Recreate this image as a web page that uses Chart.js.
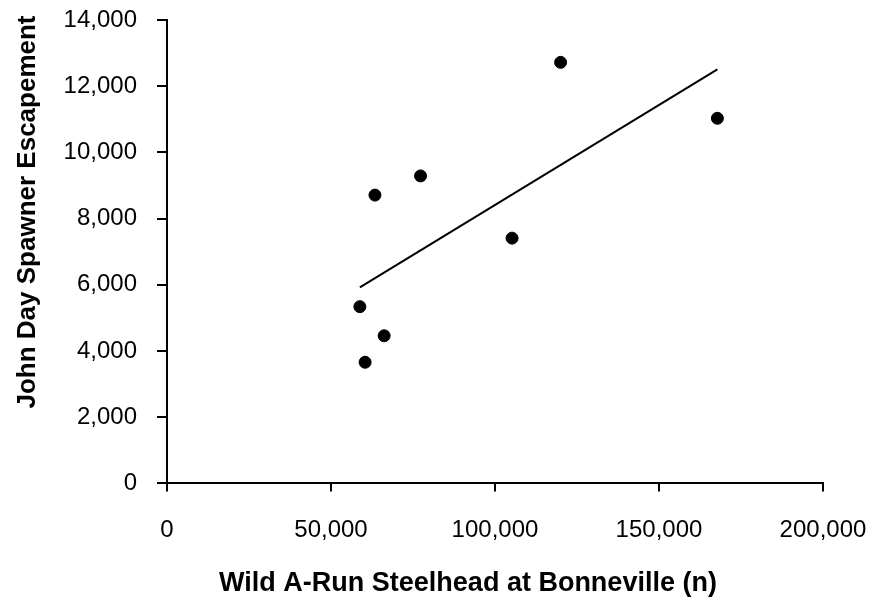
<!DOCTYPE html>
<html>
<head>
<meta charset="utf-8">
<script src="https://cdn.jsdelivr.net/npm/chart.js@4"></script>
<style>
  html, body { margin: 0; padding: 0; background: #fff; }
  #wrap { width: 877px; height: 610px; position: relative; }
</style>
</head>
<body>
<div id="wrap"><canvas id="chart"></canvas></div>
<script>
// точки: уловы на Бонневиле и нерестовый подход John Day
var bonnevilleRun = [58800, 60400, 63400, 66200, 77300, 105200, 120000, 167800];
var spawnerCount = [5340, 3660, 8710, 4460, 9290, 7410, 12720, 11030];
// линия тренда (концы)
var trendX = [58800, 167800];
var trendY = [5920, 12510];

var xTitle = 'Wild A-Run Steelhead at Bonneville (n)';
var yTitle = 'John Day Spawner Escapement';

var FONT = '"Liberation Sans", Arial, sans-serif';

function fmt(v){ return Number(v).toLocaleString('en-US'); }

var scatterData = bonnevilleRun.map(function(x, i){ return {x: x, y: spawnerCount[i]}; });
var trendData = trendX.map(function(x, i){ return {x: x, y: trendY[i]}; });

// подписи осей рисуем сами, чтобы поставить как в оригинале
var axisTitles = {
    id: 'axisTitles',
    afterDraw: function(chart){
        var ctx = chart.ctx;
        ctx.save();
        ctx.fillStyle = '#000';
        ctx.textAlign = 'center';
        ctx.textBaseline = 'middle';
        ctx.font = 'bold 27px ' + FONT;
        ctx.fillText(xTitle, 468, 584);
        ctx.font = 'bold 26px ' + FONT;
        ctx.translate(28, 212);
        ctx.rotate(-Math.PI / 2);
        ctx.fillText(yTitle, 0, 0);
        ctx.restore();
    }
};

new Chart(document.getElementById('chart'), {
    type: 'scatter',
    data: {
        datasets: [{
            label: 'trend',
            type: 'line',
            data: trendData,
            borderColor: '#000',
            borderWidth: 2,
            pointRadius: 0,
            fill: false,
            order: 2
        }, {
            label: 'points',
            data: scatterData,
            backgroundColor: '#000',
            borderColor: '#000',
            pointRadius: 6,
            order: 1
        }]
    },
    options: {
        responsive: true,
        maintainAspectRatio: false,
        animation: false,
        layout: { padding: { top: 20, right: 54, left: 0, bottom: 0 } },
        plugins: { legend: { display: false }, tooltip: { enabled: false } },
        scales: {
            x: {
                type: 'linear',
                min: 0, max: 200000,
                border: { color: '#000', width: 2 },
                grid: { drawOnChartArea: false, drawTicks: true, tickLength: 8, color: '#000', lineWidth: 2 },
                ticks: {
                    stepSize: 50000,
                    color: '#000',
                    padding: 25,
                    maxRotation: 0,
                    font: { family: FONT, size: 24 },
                    callback: function(v){ return fmt(v); }
                },
                afterFit: function(scale){
                    scale.height = 126.6;
                    scale.paddingLeft = 0; scale.paddingRight = 0; // без лишних отступов под подписи
                }
            },
            y: {
                type: 'linear',
                min: 0, max: 14000,
                border: { color: '#000', width: 2 },
                grid: { drawOnChartArea: false, drawTicks: true, tickLength: 10, color: '#000', lineWidth: 2 },
                ticks: {
                    stepSize: 2000,
                    color: '#000',
                    padding: 20,
                    font: { family: FONT, size: 24 },
                    callback: function(v){ return fmt(v); }
                },
                afterFit: function(scale){
                    scale.width = 167;
                    scale.paddingTop = 0; scale.paddingBottom = 0;
                }
            }
        }
    },
    plugins: [axisTitles]
});
</script>
</body>
</html>
